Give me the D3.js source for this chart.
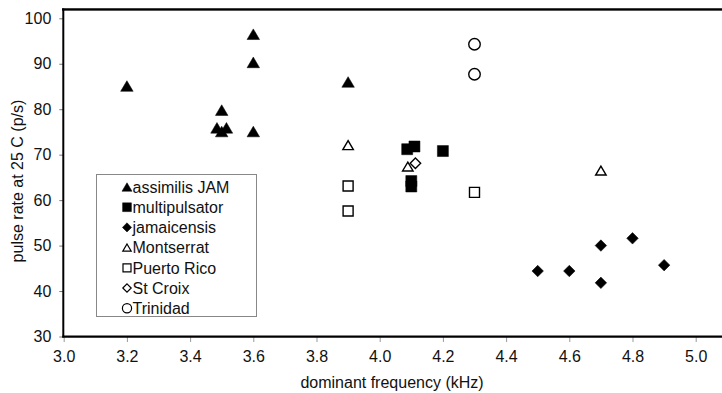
<!DOCTYPE html>
<html><head><meta charset="utf-8">
<script src="https://cdn.jsdelivr.net/npm/d3@7"></script>
<style>
html,body{margin:0;padding:0;background:#fff;}
svg{display:block;font-family:"Liberation Sans",Arial,sans-serif;}
</style></head>
<body>
<svg id="chart" width="722" height="393"></svg>
<script>
// ---- data ----
const seriesNames = ["assimilis JAM","multipulsator","jamaicensis","Montserrat","Puerto Rico","St Croix","Trinidad"];
const assimilisJAM = [[3.2,85.1],[3.5,79.8],[3.485,75.9],[3.5,75.1],[3.515,75.9],[3.6,96.5],[3.6,90.3],[3.6,75.1],[3.9,86.0]];
const multipulsator = [[4.087,71.2],[4.11,71.8],[4.2,70.8],[4.1,64.2],[4.1,63.0]];
const jamaicensis = [[4.5,44.4],[4.6,44.4],[4.7,50.0],[4.7,41.8],[4.8,51.6],[4.9,45.7]];
const montserrat = [[3.9,72.1],[4.089,67.4],[4.7,66.5]];
const puertoRico = [[3.9,63.1],[3.9,57.6],[4.3,61.7]];
const stCroix = [[4.113,68.1]];
const trinidad = [[4.3,94.3],[4.3,87.7]];
const xTicks = [3.0,3.2,3.4,3.6,3.8,4.0,4.2,4.4,4.6,4.8,5.0];
const yTicks = [30,40,50,60,70,80,90,100];
const xTitle = "dominant frequency (kHz)";
const yTitle = "pulse rate at 25 C (p/s)";

const svg = d3.select("#chart");
const x = d3.scaleLinear().domain([3.0,5.0]).range([63.7,695.7]);
const y = d3.scaleLinear().domain([30,100]).range([336.5,18.3]);

// symbol paths centered at bbox center
function tri(s){const h=s*0.85;return `M0,${-h/2}L${s/2},${h/2}L${-s/2},${h/2}Z`;}
function sq(s){return `M${-s/2},${-s/2}H${s/2}V${s/2}H${-s/2}Z`;}
function dia(s){return `M0,${-s/2}L${s/2},0L0,${s/2}L${-s/2},0Z`;}
function circ(s){const r=s/2;return `M${r},0A${r},${r},0,1,1,${-r},0A${r},${r},0,1,1,${r},0Z`;}

const series = [
  {name:seriesNames[0], data:assimilisJAM, shape:tri, size:12.5, fill:true},
  {name:seriesNames[1], data:multipulsator, shape:sq, size:11, fill:true},
  {name:seriesNames[2], data:jamaicensis, shape:dia, size:11.5, fill:true},
  {name:seriesNames[3], data:montserrat, shape:tri, size:10.5, fill:false},
  {name:seriesNames[4], data:puertoRico, shape:sq, size:10, fill:false},
  {name:seriesNames[5], data:stCroix, shape:dia, size:10.5, fill:false},
  {name:seriesNames[6], data:trinidad, shape:circ, size:11.5, fill:false}
];

// frame: top line with shadow
svg.append("line").attr("x1",62).attr("x2",722).attr("y1",10.5).attr("y2",10.5).attr("stroke","#aaa").attr("stroke-width",1);
svg.append("line").attr("x1",62).attr("x2",722).attr("y1",9.3).attr("y2",9.3).attr("stroke","#000").attr("stroke-width",2.2);

// y axis
const yAxis = d3.axisLeft(y).tickValues(yTicks).tickSize(4).tickPadding(8).tickFormat(d3.format("d"));
const gy = svg.append("g").attr("transform","translate(63.3,0)").call(yAxis);
gy.select(".domain").remove();
gy.selectAll(".tick line").attr("stroke","#777");
gy.selectAll(".tick text").attr("font-size",16).attr("fill","#111").attr("font-family","Liberation Sans, Arial, sans-serif");
svg.append("line").attr("x1",63.3).attr("x2",63.3).attr("y1",8.5).attr("y2",337.5).attr("stroke","#000").attr("stroke-width",2);

// x axis
const xAxis = d3.axisBottom(x).tickValues(xTicks).tickSize(5).tickPadding(9).tickFormat(d3.format(".1f"));
const gx = svg.append("g").attr("transform","translate(0,337)").call(xAxis);
gx.select(".domain").remove();
gx.selectAll(".tick line").attr("stroke","#999");
gx.selectAll(".tick text").attr("font-size",16).attr("fill","#111").attr("font-family","Liberation Sans, Arial, sans-serif");
svg.append("line").attr("x1",62.3).attr("x2",722).attr("y1",336.7).attr("y2",336.7).attr("stroke","#000").attr("stroke-width",2.2);

// titles
svg.append("text").attr("x",392).attr("y",388).attr("text-anchor","middle").attr("font-size",16).attr("fill","#111").text(xTitle);
svg.append("text").attr("transform","translate(23,181) rotate(-90)").attr("text-anchor","middle").attr("font-size",16).attr("fill","#111").text(yTitle);

// points
series.forEach(s=>{
  svg.append("g").selectAll("path").data(s.data).join("path")
    .attr("transform",d=>`translate(${x(d[0])},${y(d[1])})`)
    .attr("d",s.shape(s.size))
    .attr("fill",s.fill?"#000":"#fff")
    .attr("stroke","#000")
    .attr("stroke-width",s.fill?0.5:1.4);
});

// legend
const lg = svg.append("g");
lg.append("rect").attr("x",96.5).attr("y",174.5).attr("width",160).attr("height",142).attr("fill","#fff").attr("stroke","#888").attr("stroke-width",1);
series.forEach((s,i)=>{
  const cy = 187 + i*20.2;
  lg.append("path").attr("transform",`translate(127,${cy})`).attr("d",s.shape(s.size*0.8))
    .attr("fill",s.fill?"#000":"#fff").attr("stroke","#000").attr("stroke-width",s.fill?0.5:1.2);
  lg.append("text").attr("x",132.5).attr("y",cy+5.8).attr("font-size",16).attr("fill","#111").text(s.name);
});
</script>
</body></html>
